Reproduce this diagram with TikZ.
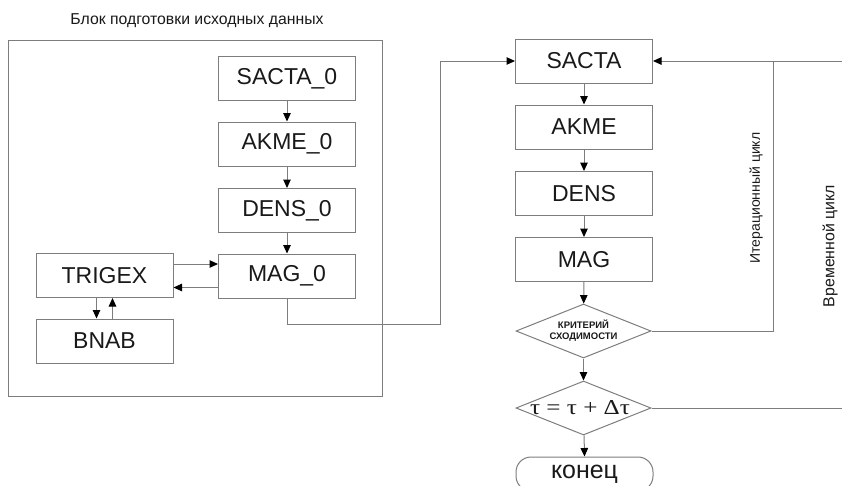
\documentclass[tikz,border=0pt]{standalone}
\usepackage{graphicx}
\usepackage{fontspec}
\setmainfont{Liberation Sans}
\newfontfamily\serifg{Liberation Serif}
\usetikzlibrary{arrows.meta,shapes.geometric}
\definecolor{linegray}{RGB}{125,125,125}
\definecolor{txt}{RGB}{25,25,25}
\begin{document}
\begin{tikzpicture}[x=1pt,y=-1pt,
  conn/.style={draw=linegray,line width=1pt},
  arr/.style={conn,-{Triangle[length=8.5pt,width=7.5pt,color=black]}},
  blk/.style={draw=linegray,line width=1pt,minimum width=137pt,minimum height=44pt,inner sep=0pt,
    font=\fontsize{23}{25}\selectfont,text=txt},
  dia/.style={draw=linegray,line width=1pt,diamond,aspect=2.5,minimum width=135pt,minimum height=54pt,inner sep=0pt,text=txt},
  vlab/.style={rotate=90,font=\fontsize{14}{16}\selectfont,text=txt,inner sep=0pt}
]
\useasboundingbox (0,0) rectangle (842,485);
\clip (0,0) rectangle (842,485);
\node[inner sep=0pt,font=\fontsize{14}{16}\selectfont,text=txt] (title) at (197,21) {\resizebox{253pt}{!}{Блок подготовки исходных данных}};
\draw[conn] (8,40) rectangle (382,396);
% left column
\node[blk] (sacta0) at (287,78.5) {SACTA\_0};
\node[blk] (akme0) at (287,144) {AKME\_0};
\node[blk] (dens0) at (287,210.5) {DENS\_0};
\node[blk] (mag0) at (287,276) {MAG\_0};
\node[blk] (trigex) at (104.5,275.5) {TRIGEX};
\node[blk] (bnab) at (104.5,341) {BNAB};
\draw[arr] (sacta0) -- (akme0);
\draw[arr] (akme0) -- (dens0);
\draw[arr] (dens0) -- (mag0);
\draw[arr] ([yshift=11.5pt]trigex.east) -- ([yshift=11.5pt]trigex.east -| mag0.west);
\draw[arr] ([yshift=-11.5pt]mag0.west) -- ([yshift=-11.5pt]mag0.west -| trigex.east);
\draw[arr] ([xshift=-8pt]trigex.south) -- ([xshift=-8pt]bnab.north);
\draw[arr] ([xshift=8pt]bnab.north) -- ([xshift=8pt]trigex.south);
% right column
\node[blk] (sacta) at (584,61) {SACTA};
\node[blk] (akme) at (584,127) {AKME};
\node[blk] (dens) at (584,193.5) {DENS};
\node[blk] (mag) at (584,259.5) {MAG};
\node[dia] (crit) at (583.5,331) {\makebox[0pt]{\smash{\raisebox{-2.5pt}{\fontsize{9.5}{10.5}\selectfont\bfseries\begin{tabular}{@{}c@{}}КРИТЕРИЙ\\СХОДИМОСТИ\end{tabular}}}}};
\node[dia] (tau) at (583.5,408) {\makebox[0pt]{\smash{\hspace{-7pt}\raisebox{-6.5pt}{\resizebox{100pt}{14pt}{\serifg\fontsize{20}{22}\selectfont τ = τ + Δτ}}}}};
\node[blk,rounded corners=15pt,minimum height=34pt] (kon) at (584.5,474) {\raisebox{-3pt}{\resizebox{67pt}{!}{конец}}};
\draw[arr] (sacta) -- (akme);
\draw[arr] (akme) -- (dens);
\draw[arr] (dens) -- (mag);
\draw[arr] (mag) -- (crit);
\draw[arr] (crit) -- (tau);
\draw[arr] (tau) -- (kon.north);
% input from left block
\coordinate (j1) at (440,324);
\draw[arr] (mag0.south) |- (j1) |- (sacta.west);
% iteration loop
\coordinate (it) at (773,331);
\coordinate (tr) at (842,61);
\draw[conn] (crit.east) -- (it) -- (it |- sacta.east);
\draw[arr] (tr) -- (sacta.east);
% time loop
\coordinate (tt) at (842,408);
\draw[conn] (tau.east) -- (tt);
\node[vlab] (itlab) at (756,198) {Итерационный цикл};
\node[vlab] (timelab) at (830,246) {\resizebox{122pt}{!}{Временной цикл}};
\end{tikzpicture}
\end{document}
